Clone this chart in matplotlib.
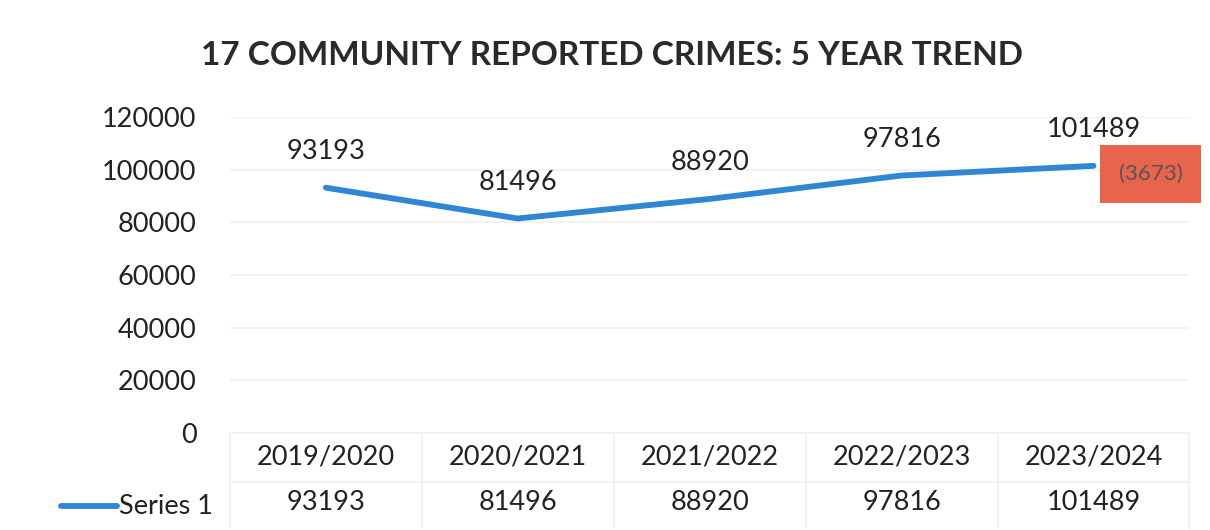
import matplotlib.pyplot as plt

plt.rcParams['font.family'] = ['Lato', 'DejaVu Sans']

# Reported crime totals per financial year
years = ['2019/2020', '2020/2021', '2021/2022', '2022/2023', '2023/2024']
crimes = [93193, 81496, 88920, 97816, 101489]
series_name = 'Series 1'
yticks = [0, 20000, 40000, 60000, 80000, 100000, 120000]

line_col = '#2E86D4'
grid_col = '#F0F0F0'
text_col = '#222222'

fig = plt.figure(figsize=(12.1, 5.3), dpi=100)
ax = fig.add_axes([0.190, 0.183, 0.793, 0.596])

x = list(range(len(years)))
ax.plot(x, crimes, color=line_col, lw=4.2, solid_capstyle='round', zorder=3)

# value labels above each point
for xi, v in zip(x, crimes):
    ax.annotate(str(v), (xi, v), xytext=(0, 17), textcoords='offset points',
                ha='center', va='bottom', fontsize=19.5, color=text_col)

ax.set_xlim(-0.5, len(years) - 0.5)
ax.set_ylim(0, 120000)
ax.set_yticks(yticks)
ax.set_yticklabels([str(t) for t in yticks], fontsize=19.5, color=text_col)
ax.tick_params(axis='y', length=0, pad=24)
ax.set_xticks([])
ax.grid(axis='y', color=grid_col, lw=1.2)
ax.set_axisbelow(True)
for s in ax.spines.values():
    s.set_visible(False)

# data table under the plot
row1, row2, bottom = -0.075, -0.22, -0.155
ax.plot([-0.5, len(years) - 0.5], [0, 0], transform=ax.get_xaxis_transform(),
        color=grid_col, lw=1.2, clip_on=False)
ax.plot([-0.5, len(years) - 0.5], [bottom, bottom], transform=ax.get_xaxis_transform(),
        color=grid_col, lw=1.2, clip_on=False)
for b in range(len(years) + 1):
    ax.plot([b - 0.5, b - 0.5], [0, -0.3], transform=ax.get_xaxis_transform(),
            color=grid_col, lw=1.2, clip_on=False)
for xi, yr, v in zip(x, years, crimes):
    ax.text(xi, row1, yr, transform=ax.get_xaxis_transform(), ha='center',
            va='center', fontsize=19.5, color=text_col)
    ax.text(xi, row2, str(v), transform=ax.get_xaxis_transform(), ha='center',
            va='center', fontsize=19.5, color=text_col)

# legend key in the table
fig.lines.append(plt.Line2D([0.050, 0.097], [0.045, 0.045], color=line_col, lw=4.2,
                            solid_capstyle='round', transform=fig.transFigure))
fig.text(0.098, 0.045, series_name, ha='left', va='center', fontsize=19.5, color=text_col)

# change over the last year
change = crimes[-1] - crimes[-2]
fig.text(0.951, 0.672, f'({change})', ha='center', va='center', fontsize=16,
         color='#555555',
         bbox=dict(boxstyle='square,pad=0.85', fc='#E8644C', ec='none'))

fig.text(0.506, 0.895, '17 COMMUNITY REPORTED CRIMES: 5 YEAR TREND', ha='center',
         va='center', fontsize=24, fontweight='bold', color='#2a2a2a')

fig.savefig('out.png', dpi=100, facecolor='white')
